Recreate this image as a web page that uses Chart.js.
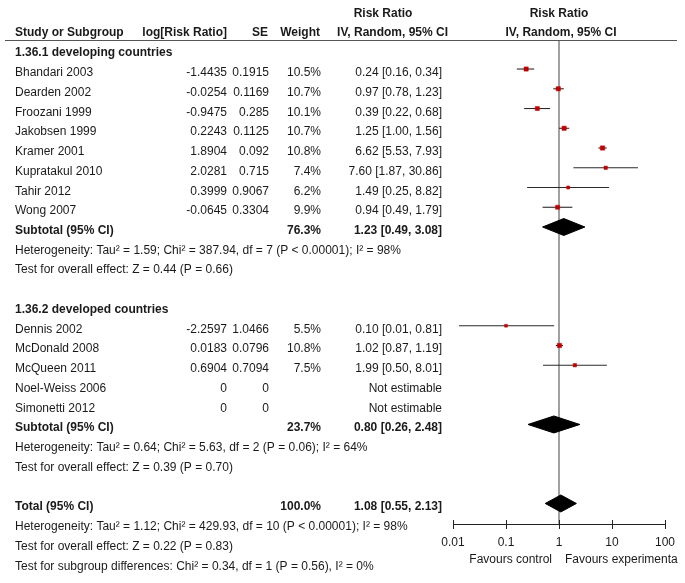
<!DOCTYPE html>
<html><head><meta charset="utf-8">
<script src="https://cdn.jsdelivr.net/npm/chart.js@4/dist/chart.umd.min.js"></script>
<style>html,body{margin:0;padding:0;background:#fff}</style>
</head><body>
<canvas id="c" width="685" height="583"></canvas>
<script>
// ---------- data ----------
const group1Title = "1.36.1 developing countries";
const g1Names = ["Bhandari 2003","Dearden 2002","Froozani 1999","Jakobsen 1999","Kramer 2001","Kupratakul 2010","Tahir 2012","Wong 2007"];
const g1LogRR = [-1.4435,-0.0254,-0.9475,0.2243,1.8904,2.0281,0.3999,-0.0645];
const g1SE = [0.1915,0.1169,0.285,0.1125,0.092,0.715,0.9067,0.3304];
const g1Weight = [10.5,10.7,10.1,10.7,10.8,7.4,6.2,9.9];
const g1RR = [0.24,0.97,0.39,1.25,6.62,7.60,1.49,0.94];
const g1Lo = [0.16,0.78,0.22,1.00,5.53,1.87,0.25,0.49];
const g1Hi = [0.34,1.23,0.68,1.56,7.93,30.86,8.82,1.79];

const group2Title = "1.36.2 developed countries";
const g2Names = ["Dennis 2002","McDonald 2008","McQueen 2011","Noel-Weiss 2006","Simonetti 2012"];
const g2LogRR = [-2.2597,0.0183,0.6904,0,0];
const g2SE = [1.0466,0.0796,0.7094,0,0];
const g2Weight = [5.5,10.8,7.5,null,null];
const g2RR = [0.10,1.02,1.99,null,null];
const g2Lo = [0.013,0.87,0.50,null,null];
const g2Hi = [0.81,1.19,8.01,null,null];

const subWeight = [76.3,23.7];
const subRR = [1.23,0.80];
const subLo = [0.49,0.26];
const subHi = [3.08,2.48];

const totalWeight = 100.0;
const totalRR = 1.08;
const totalLo = 0.55;
const totalHi = 2.13;

const g1Notes = ["Heterogeneity: Tau\u00b2 = 1.59; Chi\u00b2 = 387.94, df = 7 (P < 0.00001); I\u00b2 = 98%","Test for overall effect: Z = 0.44 (P = 0.66)"];
const g2Notes = ["Heterogeneity: Tau\u00b2 = 0.64; Chi\u00b2 = 5.63, df = 2 (P = 0.06); I\u00b2 = 64%","Test for overall effect: Z = 0.39 (P = 0.70)"];
const totalNotes = ["Heterogeneity: Tau\u00b2 = 1.12; Chi\u00b2 = 429.93, df = 10 (P < 0.00001); I\u00b2 = 98%","Test for overall effect: Z = 0.22 (P = 0.83)","Test for subgroup differences: Chi\u00b2 = 0.34, df = 1 (P = 0.56), I\u00b2 = 0%"];

const tickValues = [0.01,0.1,1,10,100];
const tickLabels = ["0.01","0.1","1","10","100"];
const favoursLeft = "Favours control";
const favoursRight = "Favours experimenta";

// ---------- row layout ----------
const rows = [];
let k = -1;
rows.push({k:k++, type:"group", text:group1Title});
g1Names.forEach((n,i)=>rows.push({k:k++, type:"study", name:n, lr:g1LogRR[i], se:g1SE[i], w:g1Weight[i], rr:g1RR[i], lo:g1Lo[i], hi:g1Hi[i]}));
rows.push({k:k++, type:"sub", w:subWeight[0], rr:subRR[0], lo:subLo[0], hi:subHi[0], name:"Subtotal (95% CI)"});
g1Notes.forEach(t=>rows.push({k:k++, type:"note", text:t}));
k++;
rows.push({k:k++, type:"group", text:group2Title});
g2Names.forEach((n,i)=>rows.push({k:k++, type:"study", name:n, lr:g2LogRR[i], se:g2SE[i], w:g2Weight[i], rr:g2RR[i], lo:g2Lo[i], hi:g2Hi[i]}));
rows.push({k:k++, type:"sub", w:subWeight[1], rr:subRR[1], lo:subLo[1], hi:subHi[1], name:"Subtotal (95% CI)"});
g2Notes.forEach(t=>rows.push({k:k++, type:"note", text:t}));
k++;
rows.push({k:k++, type:"sub", w:totalWeight, rr:totalRR, lo:totalLo, hi:totalHi, name:"Total (95% CI)"});
totalNotes.forEach(t=>rows.push({k:k++, type:"note", text:t}));

const Y_MIN = -1.47, Y_MAX = 23.04;
const DIAMOND_H = 0.43;

// ---------- datasets ----------
const datasets = [];
datasets.push({type:'line', data:[{x:1,y:Y_MIN},{x:1,y:Y_MAX}], borderColor:'#8a8a8a', borderWidth:1.6, pointRadius:0, order:5});
rows.filter(r=>r.type==="study" && r.rr!=null).forEach(r=>{
  datasets.push({type:'line', data:[{x:r.lo,y:r.k},{x:r.hi,y:r.k}], borderColor:'#2a2a2a', borderWidth:1.1, pointRadius:0, order:3});
});
const studyRows = rows.filter(r=>r.type==="study" && r.rr!=null);
datasets.push({type:'scatter', data:studyRows.map(r=>({x:r.rr,y:r.k})),
  pointStyle:'rect', pointRadius:studyRows.map(r=>(1.4+0.27*r.w)/1.414),
  backgroundColor:'#c00000', borderColor:'#c00000', borderWidth:0.5, order:1});
rows.filter(r=>r.type==="sub").forEach(r=>{
  datasets.push({type:'line', data:[{x:r.lo,y:r.k},{x:r.rr,y:r.k-DIAMOND_H},{x:r.hi,y:r.k},{x:r.rr,y:r.k+DIAMOND_H},{x:r.lo,y:r.k}],
    borderColor:'#000', backgroundColor:'#000', borderWidth:1, pointRadius:0, fill:'shape', tension:0, order:2});
});

// ---------- text / axis plugin ----------
const FONT = "'Liberation Sans', Arial, Helvetica, sans-serif";
const SIZE = 12;
const TXT = '#1a1a1a';
const COL = {name:15, lr:227, se:269, w:321, rr:442};
function fmt(v){return v.toFixed(2);}
const tablePlugin = {
  id:'table',
  afterDatasetsDraw(chart){
    const ctx = chart.ctx, xs = chart.scales.x, ys = chart.scales.y, ca = chart.chartArea;
    ctx.save();
    ctx.fillStyle = TXT;
    ctx.textBaseline = 'alphabetic';
    const B = (b)=> (b?'bold ':'') + SIZE + 'px ' + FONT;
    function t(s,x,y,align,bold){ctx.font=B(bold);ctx.textAlign=align;ctx.fillText(s,x,y);}
    // header
    t("Risk Ratio",383,17,'center',true);
    t("Risk Ratio",xs.getPixelForValue(1),17,'center',true);
    t("Study or Subgroup",COL.name,36,'left',true);
    t("log[Risk Ratio]",COL.lr,36,'right',true);
    t("SE",COL.se-1,36,'right',true);
    t("Weight",COL.w-1,36,'right',true);
    t("IV, Random, 95% CI",448,36,'right',true);
    t("IV, Random, 95% CI",xs.getPixelForValue(1)+2,36,'center',true);
    ctx.strokeStyle='#555'; ctx.lineWidth=1.2;
    ctx.beginPath(); ctx.moveTo(5,ca.top+0.5); ctx.lineTo(677,ca.top+0.5); ctx.stroke();
    // rows
    rows.forEach(r=>{
      const y = ys.getPixelForValue(r.k) + 7;
      if(r.type==="group"){ t(r.text,COL.name,y,'left',true); }
      else if(r.type==="note"){ t(r.text,COL.name,y,'left',false); }
      else if(r.type==="study"){
        t(r.name,COL.name,y,'left',false);
        t(String(r.lr),COL.lr,y,'right',false);
        t(String(r.se),COL.se,y,'right',false);
        if(r.rr!=null){
          t(r.w.toFixed(1)+'%',COL.w,y,'right',false);
          t(fmt(r.rr)+' ['+fmt(r.lo)+', '+fmt(r.hi)+']',COL.rr,y,'right',false);
        } else {
          t('Not estimable',COL.rr,y,'right',false);
        }
      } else if(r.type==="sub"){
        t(r.name,COL.name,y,'left',true);
        t(r.w.toFixed(1)+'%',COL.w,y,'right',true);
        t(fmt(r.rr)+' ['+fmt(r.lo)+', '+fmt(r.hi)+']',COL.rr,y,'right',true);
      }
    });
    // axis
    const ay = Math.round(ca.bottom)+0.5;
    ctx.strokeStyle='#222'; ctx.lineWidth=1;
    ctx.beginPath();
    ctx.moveTo(xs.getPixelForValue(tickValues[0]),ay);
    ctx.lineTo(xs.getPixelForValue(tickValues[tickValues.length-1]),ay);
    tickValues.forEach(v=>{const px=Math.round(xs.getPixelForValue(v))+0.5; ctx.moveTo(px,ay-4.5); ctx.lineTo(px,ay+4.5);});
    ctx.stroke();
    tickValues.forEach((v,i)=>t(tickLabels[i],xs.getPixelForValue(v),ay+21,'center',false));
    t(favoursLeft,xs.getPixelForValue(1)-7,ay+38,'right',false);
    t(favoursRight,xs.getPixelForValue(1)+6,ay+38,'left',false);
    ctx.restore();
  }
};

new Chart(document.getElementById('c'), {
  type:'scatter',
  data:{datasets},
  options:{
    responsive:false, animation:false, devicePixelRatio:1,
    layout:{padding:{left:453, right:20, top:40, bottom:59}},
    plugins:{legend:{display:false}, tooltip:{enabled:false}},
    scales:{
      x:{type:'logarithmic', min:0.01, max:100, display:false},
      y:{type:'linear', min:Y_MIN, max:Y_MAX, reverse:true, display:false}
    },
    clip:false
  },
  plugins:[tablePlugin]
});
</script>
</body></html>
